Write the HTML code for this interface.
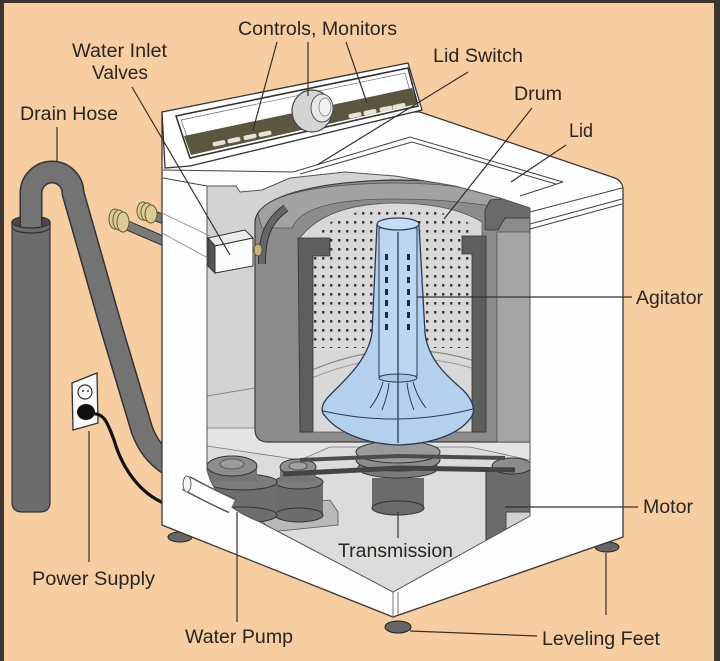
<!DOCTYPE html>
<html><head><meta charset="utf-8">
<style>html,body{margin:0;padding:0;background:#F6CEA2}svg{display:block}</style></head>
<body>
<svg width="720" height="661" viewBox="0 0 720 661" xmlns="http://www.w3.org/2000/svg" font-family="'Liberation Sans', Arial, sans-serif">
<defs>
<pattern id="dots" width="8" height="9" patternUnits="userSpaceOnUse" x="312" y="210">
<rect x="2" y="2" width="2.4" height="2.6" fill="#3a3a3a"/>
</pattern>
<clipPath id="cut"><path d="M207,186 L236,186 L240,192 L262,190 L290,178 L345,172 L395,176 L455,186 L500,198 L530,208 L530,516 L393,592 L260,522 C235,512 215,500 207,470 Z"/></clipPath>
</defs>
<rect width="720" height="661" fill="#F6CEA2"/>

<!-- drain standpipe + hose -->
<path d="M12,222 L12,502 Q12,512 22,512 L40,512 Q50,512 50,502 L50,222 Z" fill="#6c6c6c" stroke="#333" stroke-width="1.2"/>
<ellipse cx="31" cy="222" rx="19" ry="6" fill="#4a4a4a" stroke="#333"/>
<path d="M31,228 L31,193 A21,21 0 0 1 73,193 L112,330 L142,430 Q150,452 168,464" fill="none" stroke="#333" stroke-width="23"/>
<path d="M31,228 L31,193 A21,21 0 0 1 73,193 L112,330 L142,430 Q150,452 168,464" fill="none" stroke="#737373" stroke-width="20"/>
<path d="M12,222 A19,6 0 0 0 50,222 L50,227 A19,6 0 0 1 12,227 Z" fill="#6c6c6c" stroke="#333" stroke-width="1.2"/>

<!-- outlet + cord -->
<path d="M72,383 L97,373 L98,423 L73,430 Z" fill="#fafafa" stroke="#333" stroke-width="1.3"/>
<circle cx="85" cy="392" r="7" fill="#fff" stroke="#333" stroke-width="1.2"/>
<circle cx="83" cy="391" r="1" fill="#333"/><circle cx="88" cy="391" r="1" fill="#333"/>
<path d="M92,414 C104,412 108,424 114,440 C122,468 140,494 166,504" fill="none" stroke="#111" stroke-width="3.2"/>
<ellipse cx="86" cy="412" rx="9" ry="8" fill="#111"/>

<!-- inlet hoses -->
<path d="M124,224 L166,242" stroke="#333" stroke-width="10" fill="none"/>
<path d="M124,224 L166,242" stroke="#7a7a7a" stroke-width="8" fill="none"/>
<path d="M152,215 L166,220" stroke="#333" stroke-width="10" fill="none"/>
<path d="M152,215 L166,220" stroke="#7a7a7a" stroke-width="8" fill="none"/>
<g fill="#dccb95" stroke="#6a5a30" stroke-width="1">
<ellipse cx="115" cy="219" rx="6" ry="10"/><ellipse cx="119" cy="220" rx="6" ry="10"/><ellipse cx="123" cy="222" rx="6" ry="10"/>
<ellipse cx="143" cy="211" rx="6" ry="9"/><ellipse cx="147" cy="212" rx="6" ry="9"/><ellipse cx="151" cy="214" rx="6" ry="9"/>
</g>

<!-- feet -->
<ellipse cx="180" cy="537" rx="12" ry="5" fill="#666" stroke="#222"/>
<ellipse cx="607" cy="547" rx="12" ry="5" fill="#666" stroke="#222"/>
<ellipse cx="398" cy="627" rx="13" ry="6" fill="#666" stroke="#222"/>

<!-- cabinet body -->
<path d="M162,112 L162,525 L393,617 L623,537 L623,190 Q623,180 612,177 L420,112 Z" fill="#fdfdfd" stroke="#3a3a3a" stroke-width="1.3"/>
<path d="M393,592 L393,617 M398,592 L398,615" stroke="#777" stroke-width="1"/>

<!-- console -->
<path d="M162,112 L408,63 L422,110 L190,166 L165,168 Z" fill="#fff" stroke="#333" stroke-width="1.3"/>
<path d="M176,116 L408,68 L418,106 L190,158 Z" fill="#fff" stroke="#333" stroke-width="1.6"/>
<path d="M181,120 L405,73 L413,103 L193,153 Z" fill="none" stroke="#666" stroke-width="0.7"/>
<path d="M184,136 L412,88 L417,104 L191,155 Z" fill="#5b5640"/>
<g fill="#e6e2d6">
<rect x="212.5" y="141" width="13" height="4.5" rx="2" transform="rotate(-11.6 219 143.2)"/>
<rect x="227.5" y="137.9" width="13" height="4.5" rx="2" transform="rotate(-11.6 234 140.1)"/>
<rect x="243.5" y="134.6" width="13" height="4.5" rx="2" transform="rotate(-11.6 250 136.8)"/>
<rect x="258.5" y="131.5" width="13" height="4.5" rx="2" transform="rotate(-11.6 265 133.7)"/>
<rect x="348.5" y="113" width="13" height="4.5" rx="2" transform="rotate(-11.6 355 115.2)"/>
<rect x="363.5" y="109.9" width="13" height="4.5" rx="2" transform="rotate(-11.6 370 112.1)"/>
<rect x="379.5" y="106.6" width="13" height="4.5" rx="2" transform="rotate(-11.6 386 108.8)"/>
<rect x="392.5" y="103.9" width="13" height="4.5" rx="2" transform="rotate(-11.6 399 106.1)"/>
</g>
<ellipse cx="312" cy="111" rx="20" ry="21" fill="#d4d4d4" stroke="#444" stroke-width="1.2"/>
<ellipse cx="322" cy="108" rx="11" ry="14" fill="#e6e6e6" stroke="#555"/>
<ellipse cx="325" cy="107" rx="6" ry="9" fill="#f0f0f0" stroke="#777" stroke-width="0.7"/>

<!-- top surface lines & lid -->
<g stroke="#444" fill="none" stroke-width="1">
<path d="M163,170 L293,172"/>
<path d="M163,178 L207,186"/>
<path d="M293,172 L410,137 L563,182"/>
<path d="M300,174 L412,142 L556,184"/>
<path d="M563,182 L520,196"/>
<path d="M622,188 L530,212"/>
<path d="M622,199 L530,224"/>
<path d="M622,204 L530,229"/>
</g>

<!-- interior -->
<g clip-path="url(#cut)">
<rect x="200" y="160" width="340" height="440" fill="#d3d3d3"/>
<path d="M207,445 L530,445 L530,520 L393,592 L207,500 Z" fill="#dcdcdc"/>
<path d="M207,396 L255,388" stroke="#888" stroke-width="1"/>
<path d="M207,428 L530,428 L530,460 L470,447 L330,447 L300,460 L207,446 Z" fill="#e4e4e4" stroke="#777" stroke-width="0.8"/>

<!-- tub -->
<path d="M255,222 C256,198 310,182 392,180 C462,180 508,190 530,202 L530,442 L268,442 Q255,442 255,429 Z" fill="#8c8c8c" stroke="#3c3c3c" stroke-width="1.2"/>
<rect x="497" y="232" width="33" height="210" fill="#a5a5a5" stroke="#555" stroke-width="0.8"/>
<path d="M258,214 C268,194 320,184 392,183 C455,183 500,192 527,205 L527,214 C500,206 455,199 392,199 C335,199 300,208 292,228 L262,228 Z" fill="#a2a2a2" stroke="#555" stroke-width="0.8"/>
<path d="M300,238 C318,214 352,204 392,203 C432,203 462,210 482,222 L482,432 L300,432 Z" fill="#d8d8d8" stroke="#555" stroke-width="0.8"/>
<path d="M314,236 C330,216 360,209 392,209 C430,209 456,214 470,224 L470,348 L314,348 Z" fill="url(#dots)"/>
<path d="M312,370 Q395,335 478,362" stroke="#8a8a8a" fill="none" stroke-width="1.2"/>
<path d="M312,378 Q395,343 478,370" stroke="#9a9a9a" fill="none" stroke-width="1"/>
<path d="M298,238 L330,238 L330,256 L313,256 L313,432 L300,432 Z" fill="#5e5e5e" stroke="#333" stroke-width="0.8"/>
<path d="M486,236 L462,236 L462,254 L472,254 L472,432 L486,432 Z" fill="#5e5e5e" stroke="#333" stroke-width="0.8"/>
<path d="M490,200 L510,198 L530,205 L530,218 L505,218 L498,230 L485,230 L485,210 Z" fill="#6a6a6a" stroke="#333" stroke-width="0.8"/>
<path d="M262,264 C262,240 266,222 286,208" stroke="#333" stroke-width="8" fill="none"/>
<path d="M262,264 C262,240 266,222 286,208" stroke="#666" stroke-width="6" fill="none"/>

<!-- mechanics -->
<path d="M262,506 L330,500 L338,512 L338,525 L270,532 L262,520 Z" fill="#b9b9b9" stroke="#555" stroke-width="0.8"/>
<rect x="275" y="482" width="48" height="33" fill="#6c6c6c"/>
<ellipse cx="299" cy="515" rx="24" ry="7" fill="#6c6c6c" stroke="#333"/>
<ellipse cx="299" cy="482" rx="24" ry="7" fill="#7d7d7d" stroke="#333"/>
<rect x="280" y="467" width="36" height="15" fill="#777"/>
<ellipse cx="298" cy="467" rx="18" ry="8" fill="#8e8e8e" stroke="#333"/>
<ellipse cx="298" cy="466" rx="9" ry="4" fill="#a0a0a0" stroke="#555"/>

<rect x="372" y="478" width="52" height="30" fill="#6b6b6b"/>
<ellipse cx="398" cy="508" rx="26" ry="7" fill="#6b6b6b" stroke="#333"/>
<ellipse cx="398" cy="468" rx="40" ry="10" fill="#7a7a7a" stroke="#333"/>
<ellipse cx="398" cy="460" rx="42" ry="11" fill="#8c8c8c" stroke="#333"/>
<ellipse cx="398" cy="452" rx="42" ry="11" fill="#9a9a9a" stroke="#333"/>

<rect x="486" y="468" width="46" height="72" fill="#6b6b6b" stroke="#333"/>
<ellipse cx="512" cy="466" rx="20" ry="8" fill="#8c8c8c" stroke="#333"/>
<rect x="506" y="512" width="26" height="18" fill="#d0d0d0" stroke="#444"/>
<path d="M283,474 L400,468 L515,470" stroke="#444" stroke-width="5" fill="none"/>
<path d="M300,460 L398,456 L505,458" stroke="#4c4c4c" stroke-width="4" fill="none"/>

<rect x="207" y="482" width="70" height="33" fill="#6e6e6e"/>
<ellipse cx="242" cy="515" rx="35" ry="8" fill="#6e6e6e" stroke="#333"/>
<ellipse cx="242" cy="482" rx="35" ry="8" fill="#7c7c7c" stroke="#333"/>
<rect x="207" y="466" width="50" height="16" fill="#747474"/>
<ellipse cx="232" cy="466" rx="25" ry="10" fill="#8c8c8c" stroke="#333"/>
<ellipse cx="232" cy="464" rx="12" ry="5" fill="#9a9a9a" stroke="#555"/>

<!-- agitator -->
<path d="M377,225 L372,333 C368,360 345,380 330,395 C320,405 321,412 325,416 C340,435 370,444 398,445 C430,444 460,435 472,416 C476,408 471,398 463,390 C448,377 428,360 425,333 L419,225 Z" fill="#b4d0ef" stroke="#2c3a52" stroke-width="1.3"/>
<path d="M379,228 L379,376 L417,376 L417,228 Z" fill="#bcd6f2" stroke="#2c3a52" stroke-width="1"/>
<ellipse cx="398" cy="224" rx="21" ry="6" fill="#c6ddf5" stroke="#2c3a52" stroke-width="1.2"/>
<ellipse cx="398" cy="378" rx="19" ry="4" fill="#a9c6e8" stroke="#2c3a52" stroke-width="1"/>
<path d="M323,411 Q398,428 473,409" stroke="#2c3a52" fill="none" stroke-width="1"/>
<path d="M398,232 L398,443" stroke="#2c3a52" stroke-width="1.3"/>
<g stroke="#2c3a52" fill="none" stroke-width="1">
<path d="M383,382 C380,392 377,399 370,408"/>
<path d="M389,383 C388,393 386,400 382,410"/>
<path d="M413,382 C416,392 419,399 426,408"/>
<path d="M407,383 C408,393 410,400 414,410"/>
</g>
<g fill="#1f2b3d">
<rect x="385" y="254" width="3" height="6"/><rect x="385" y="265" width="3" height="6"/><rect x="385" y="277" width="3" height="6"/><rect x="385" y="289" width="3" height="6"/><rect x="385" y="300" width="3" height="6"/><rect x="385" y="312" width="3" height="6"/><rect x="385" y="324" width="3" height="6"/>
<rect x="407" y="254" width="3" height="6"/><rect x="407" y="265" width="3" height="6"/><rect x="407" y="277" width="3" height="6"/><rect x="407" y="289" width="3" height="6"/><rect x="407" y="300" width="3" height="6"/><rect x="407" y="312" width="3" height="6"/><rect x="407" y="324" width="3" height="6"/>
</g>
</g>
<path d="M207,186 L236,186 L240,192 L262,190 L290,178 L345,172 L395,176 L455,186 L500,198 L530,208 L530,516 L393,592 L260,522 C235,512 215,500 207,470 Z" fill="none" stroke="#555" stroke-width="1"/>

<!-- inlet lines + valve box -->
<path d="M162,213 L210,236 M162,233 L208,258" stroke="#888" stroke-width="0.8"/>
<path d="M208,238 L245,230 L253,238 L215,246 Z" fill="#ececec" stroke="#333"/>
<path d="M215,246 L253,238 L253,266 L215,273 Z" fill="#fbfbfb" stroke="#333"/>
<path d="M208,238 L215,246 L215,273 L208,266 Z" fill="#555" stroke="#333"/>
<ellipse cx="258" cy="250" rx="4" ry="6" fill="#c9b37a" stroke="#6a5a30"/>

<!-- pump pipe -->
<path d="M186,483 Q210,496 232,506" stroke="#555" stroke-width="16" fill="none"/>
<path d="M186,483 Q210,496 232,506" stroke="#fff" stroke-width="13" fill="none"/>
<ellipse cx="187" cy="484" rx="4" ry="8" fill="#f4f4f4" stroke="#666"/>

<!-- leaders -->
<g stroke="#3a3028" stroke-width="1.2" fill="none">
<path d="M277,42 L253,130"/><path d="M308,42 L308,96"/><path d="M346,42 L367,103"/>
<path d="M132,87 L230,255"/>
<path d="M57,127 L57,162"/>
<path d="M468,72 L317,165"/>
<path d="M532,108 L444,219"/>
<path d="M566,145 L511,182"/>
<path d="M417,297 L632,297"/>
<path d="M505,507 L638,507"/>
<path d="M398,512 L398,538"/>
<path d="M89,431 L89,562"/>
<path d="M237,512 L237,622"/>
<path d="M410,631 L537,636"/>
<path d="M606,553 L606,615"/>
</g>

<!-- labels -->
<g fill="#2b2520" font-size="19">
<text x="238" y="35" textLength="159" lengthAdjust="spacingAndGlyphs">Controls, Monitors</text>
<text x="72" y="57" textLength="95" lengthAdjust="spacingAndGlyphs">Water Inlet</text>
<text x="92" y="79" textLength="56" lengthAdjust="spacingAndGlyphs">Valves</text>
<text x="20" y="120" textLength="98" lengthAdjust="spacingAndGlyphs">Drain Hose</text>
<text x="433" y="62" textLength="90" lengthAdjust="spacingAndGlyphs">Lid Switch</text>
<text x="514" y="100" textLength="48" lengthAdjust="spacingAndGlyphs">Drum</text>
<text x="569" y="137" textLength="24" lengthAdjust="spacingAndGlyphs">Lid</text>
<text x="636" y="304" textLength="67" lengthAdjust="spacingAndGlyphs">Agitator</text>
<text x="643" y="513" textLength="50" lengthAdjust="spacingAndGlyphs">Motor</text>
<text x="338" y="557" textLength="115" lengthAdjust="spacingAndGlyphs">Transmission</text>
<text x="32" y="585" textLength="123" lengthAdjust="spacingAndGlyphs">Power Supply</text>
<text x="185" y="643" textLength="108" lengthAdjust="spacingAndGlyphs">Water Pump</text>
<text x="542" y="645" textLength="118" lengthAdjust="spacingAndGlyphs">Leveling Feet</text>
</g>

<!-- frame -->
<rect x="0" y="0" width="720" height="3" fill="#3d3530"/>
<rect x="0" y="0" width="4" height="661" fill="#3d3530"/>
<rect x="714" y="0" width="6" height="661" fill="#3d3530"/>
</svg>
</body></html>
